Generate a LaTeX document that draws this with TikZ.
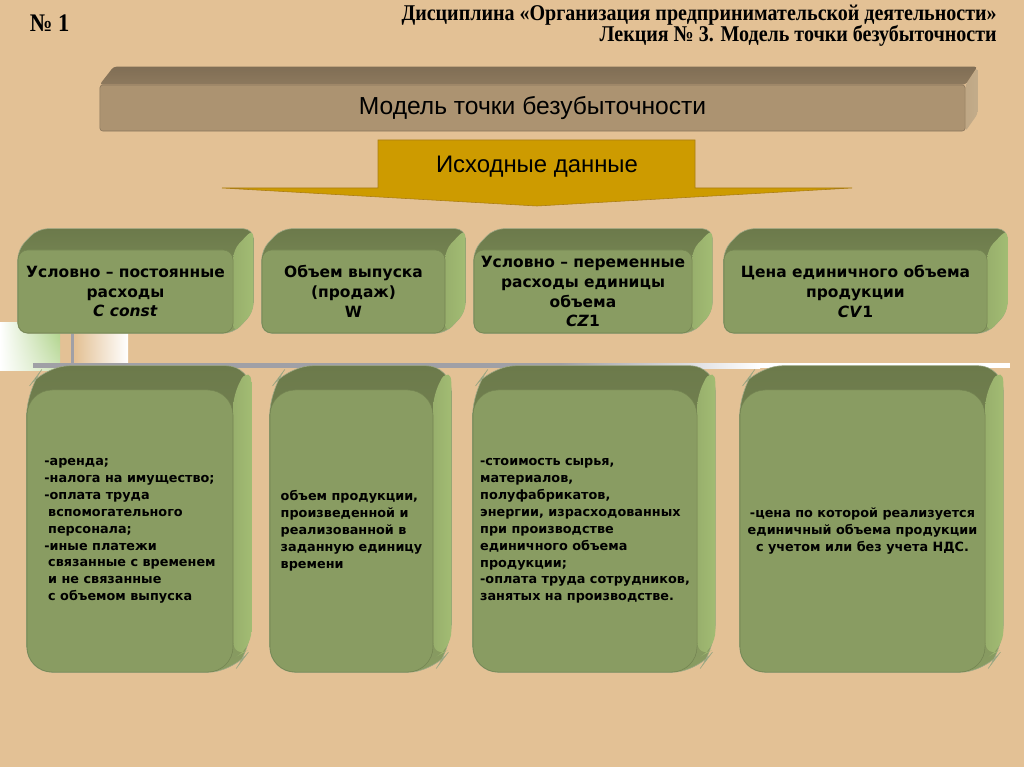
\documentclass[tikz,border=0pt]{standalone}
\usepackage{fontspec}
\setmainfont{DejaVu Sans}
\newfontfamily\titlefont[FakeStretch=0.89]{Liberation Serif}
\newfontfamily\bannerfont{Liberation Sans}
\usetikzlibrary{calc,shadings}

\definecolor{bgtan}{RGB}{227,193,149}
\definecolor{bannerfront}{RGB}{172,147,113}
\definecolor{bannertop}{RGB}{128,110,85}
\definecolor{bannerside}{RGB}{195,172,138}
\definecolor{arrowfill}{RGB}{205,155,0}
\definecolor{arrowedge}{RGB}{170,125,20}
\definecolor{greenfront}{RGB}{137,156,98}
\definecolor{greenedge}{RGB}{116,132,82}
\definecolor{greentop}{RGB}{108,122,75}
\definecolor{greenside}{RGB}{162,188,115}
\definecolor{linegray}{RGB}{160,160,166}
\definecolor{decogreen}{RGB}{170,208,130}

\pgfdeclarelayer{bg}
\pgfdeclarelayer{back}
\pgfsetlayers{bg,back,main}

\begin{document}
\begin{tikzpicture}[x=0.025cm, y=-0.025cm,
  banner/.style={draw=bannertop!80!bannerfront, fill=bannerfront, rounded corners=2pt,
    minimum width=21.625cm, minimum height=1.15cm, inner sep=0pt,
    font=\bannerfont\fontsize{17.5}{20}\selectfont},
  upbox/.style={draw=greenedge, fill=greenfront, rounded corners=7pt, inner sep=0pt,
    minimum height=2.075cm, align=center, font=\bfseries\fontsize{11}{14.2}\selectfont},
  lowbox/.style={draw=greenedge, fill=greenfront, rounded corners=18pt, inner sep=0pt,
    minimum height=7.05cm, font=\bfseries\fontsize{9.1}{12}\selectfont},
  uphull/.style={draw=greenedge!70, top color=greentop, bottom color=greenfront, rounded corners=7pt},
  upside/.style={left color=greenside!60!greenfront, right color=greenside, rounded corners=6pt},
  lowhull/.style={draw=greenedge!70, top color=greentop, bottom color=greenfront, rounded corners=18pt},
  lowside/.style={left color=greenside!60!greenfront, right color=greenside, rounded corners=12pt}]

\begin{pgfonlayer}{bg}
\fill[bgtan] (0,0) rectangle (1024,767);
\end{pgfonlayer}
\useasboundingbox (0,0) rectangle (1024,767);

% heading
\node[anchor=west, font=\titlefont\bfseries\fontsize{18}{20}\selectfont] (num) at (25,23) {№ 1};
\node[anchor=north east, inner sep=0pt, align=right, font=\titlefont\bfseries\fontsize{16}{15}\selectfont] (disc) at (997,4.5)
  {Дисциплина «Организация предпринимательской деятельности»\\Лекция № 3. Модель точки безубыточности};

% banner
\node[banner] (model) at (532.5,108) {Модель точки безубыточности};

% arrow
\draw[fill=arrowfill, draw=arrowedge] (378,140) -- (695,140) -- (695,188) -- (852,188) -- (537,206) -- (222,188) -- (378,188) -- cycle;
\node[font=\bannerfont\fontsize{17}{20}\selectfont] (src) at (537,167) {Исходные данные};

% upper boxes
\node[upbox, minimum width=5.375cm] (cconst) at (125.5,291.5) {Условно – постоянные\\расходы\\\textit{C const}};
\node[upbox, minimum width=4.575cm] (wvol) at (353.5,291.5) {Объем выпуска\\(продаж)\\W};
\node[upbox, minimum width=5.45cm] (czone) at (583,291.5) {Условно – переменные\\расходы единицы\\объема\\\textit{CZ}1};
\node[upbox, minimum width=6.575cm] (cvone) at (855.5,291.5) {Цена единичного объема\\продукции\\\textit{CV}1};

% lower boxes
\node[lowbox, minimum width=5.15cm, align=left] (fixed) at (130,531)
  {-аренда;\\-налога на имущество;\\-оплата труда\\\hspace*{0.3em}вспомогательного\\\hspace*{0.3em}персонала;\\-иные платежи\\\hspace*{0.3em}связанные с временем\\\hspace*{0.3em}и не связанные\\\hspace*{0.3em}с объемом выпуска};
\node[lowbox, minimum width=4.075cm, align=left] (output) at (351.5,531)
  {объем продукции,\\произведенной и\\реализованной в\\заданную единицу\\времени};
\node[lowbox, minimum width=5.6cm, align=left] (variable) at (585,531)
  {-стоимость сырья,\\материалов,\\полуфабрикатов,\\энергии, израсходованных\\при производстве\\единичного объема\\продукции;\\-оплата труда сотрудников,\\занятых на производстве.};
\node[lowbox, minimum width=6.125cm, align=center] (price) at (862.5,531)
  {-цена по которой реализуется\\единичный объема продукции\\с учетом или без учета НДС.};

\begin{pgfonlayer}{back}
% left decoration and rule
\shade[upper left=white, lower left=white, upper right=decogreen, lower right=white!40!decogreen] (0,322) rectangle (60,370);
\shade[left color=bgtan, right color=white] (75,333) rectangle (128,363);
\draw[linegray, line width=0.075cm] (72,333) -- (72,364);
\fill[linegray] (33,363) rectangle (560,368);
\shade[left color=linegray, right color=white] (560,363) rectangle (760,368);
\fill[white] (760,363) rectangle (1010,368);
% banner depth
\path[left color=bannerside!80!bannerfront, right color=bannerside, rounded corners=2pt] (model.north east) -- ++(12,-17) -- ($(model.south east)+(12,-17)$) -- (model.south east) -- cycle;
\path[top color=bannertop, bottom color=bannertop!70!bannerfront, rounded corners=2pt] (model.north west) -- ++(14,-18) -- ($(model.north east)+(12,-18)$) -- (model.north east) -- cycle;
% upper depth
\path[uphull] (cconst.south west) -- (cconst.north west) -- ++(20,-21) -- ($(cconst.north east)+(20,-21)$) -- ($(cconst.south east)+(20,-21)$) -- (cconst.south east) -- cycle;
\path[upside] (cconst.north east) -- ++(20,-21) -- ($(cconst.south east)+(20,-21)$) -- (cconst.south east) -- cycle;
\path[uphull] (wvol.south west) -- (wvol.north west) -- ++(20,-21) -- ($(wvol.north east)+(20,-21)$) -- ($(wvol.south east)+(20,-21)$) -- (wvol.south east) -- cycle;
\path[upside] (wvol.north east) -- ++(20,-21) -- ($(wvol.south east)+(20,-21)$) -- (wvol.south east) -- cycle;
\path[uphull] (czone.south west) -- (czone.north west) -- ++(20,-21) -- ($(czone.north east)+(20,-21)$) -- ($(czone.south east)+(20,-21)$) -- (czone.south east) -- cycle;
\path[upside] (czone.north east) -- ++(20,-21) -- ($(czone.south east)+(20,-21)$) -- (czone.south east) -- cycle;
\path[uphull] (cvone.south west) -- (cvone.north west) -- ++(20,-21) -- ($(cvone.north east)+(20,-21)$) -- ($(cvone.south east)+(20,-21)$) -- (cvone.south east) -- cycle;
\path[upside] (cvone.north east) -- ++(20,-21) -- ($(cvone.south east)+(20,-21)$) -- (cvone.south east) -- cycle;
% lower depth
\path[lowhull] (fixed.south west) -- (fixed.north west) -- ++(18,-24) -- ($(fixed.north east)+(18,-24)$) -- ($(fixed.south east)+(18,-24)$) -- (fixed.south east) -- cycle;
\path[lowside] (fixed.north east) -- ++(18,-24) -- ($(fixed.south east)+(18,-24)$) -- ($(fixed.south east)+(0,-14)$) -- cycle;
\path[lowhull] (output.south west) -- (output.north west) -- ++(18,-24) -- ($(output.north east)+(18,-24)$) -- ($(output.south east)+(18,-24)$) -- (output.south east) -- cycle;
\path[lowside] (output.north east) -- ++(18,-24) -- ($(output.south east)+(18,-24)$) -- ($(output.south east)+(0,-14)$) -- cycle;
\path[lowhull] (variable.south west) -- (variable.north west) -- ++(18,-24) -- ($(variable.north east)+(18,-24)$) -- ($(variable.south east)+(18,-24)$) -- (variable.south east) -- cycle;
\path[lowside] (variable.north east) -- ++(18,-24) -- ($(variable.south east)+(18,-24)$) -- ($(variable.south east)+(0,-14)$) -- cycle;
\path[lowhull] (price.south west) -- (price.north west) -- ++(18,-24) -- ($(price.north east)+(18,-24)$) -- ($(price.south east)+(18,-24)$) -- (price.south east) -- cycle;
\path[lowside] (price.north east) -- ++(18,-24) -- ($(price.south east)+(18,-24)$) -- ($(price.south east)+(0,-14)$) -- cycle;
\end{pgfonlayer}
\end{tikzpicture}
\end{document}
